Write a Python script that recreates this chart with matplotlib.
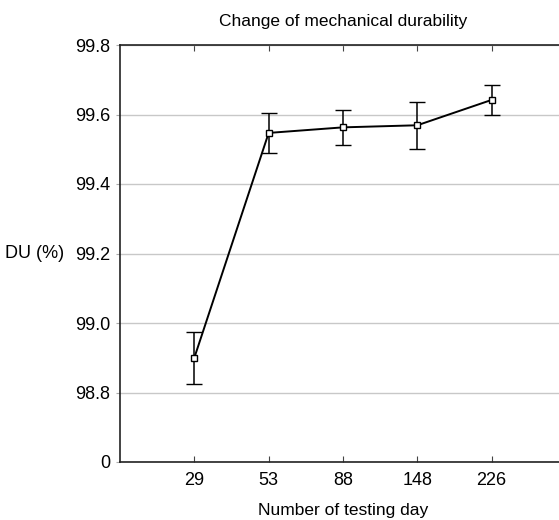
import numpy as np
import matplotlib.pyplot as plt

plt.rcParams['font.family'] = ['Liberation Sans', 'DejaVu Sans']

days = ['29', '53', '88', '148', '226']
du_mean = [98.90, 99.547, 99.563, 99.569, 99.642]
du_err = [0.075, 0.057, 0.051, 0.068, 0.044]

# y axis is broken: the bottom tick stands for 0
y_ticks = [98.6, 98.8, 99.0, 99.2, 99.4, 99.6, 99.8]
y_labels = ['0', '98.8', '99.0', '99.2', '99.4', '99.6', '99.8']

fig = plt.figure(figsize=(5.59, 5.2), dpi=100)
ax = fig.add_axes([120/559, 1 - 462/520, (566 - 120)/559, (462 - 45)/520])

x = np.arange(1, len(days) + 1)
ax.errorbar(x, du_mean, yerr=du_err, color='black', lw=1.4, elinewidth=1.1,
            capsize=6, capthick=1.1, marker='s', ms=5, mfc='white', mec='black',
            mew=1.0, zorder=3)

ax.set_xlim(0, 6)
ax.set_ylim(98.6, 99.8)
ax.set_xticks(x)
ax.set_xticklabels(days)
ax.set_yticks(y_ticks)
ax.set_yticklabels(y_labels)

ax.grid(axis='y', color='#c8c8c8', lw=1.0)
ax.set_axisbelow(True)
ax.tick_params(axis='x', direction='in', length=4, top=True, labelsize=13, pad=7, color='#444444')
ax.tick_params(axis='y', direction='out', length=3, labelsize=13, pad=4, color='#aaaaaa')
for side in ['left', 'top', 'bottom']:
    ax.spines[side].set_color('#222222')
    ax.spines[side].set_linewidth(1.2)
ax.spines['right'].set_visible(False)

ax.set_title('Change of mechanical durability', fontsize=12.5, pad=14)
ax.set_xlabel('Number of testing day', fontsize=12.5, labelpad=10)
fig.text(5/559, 1 - 253/520, 'DU (%)', fontsize=13, ha='left', va='center')

fig.savefig('out.png', dpi=100)
